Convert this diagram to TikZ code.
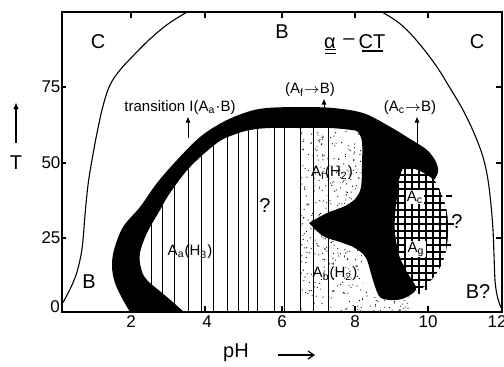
\documentclass[tikz,border=0pt]{standalone}
\usepackage{fontspec}
\setmainfont{Liberation Sans}
\usetikzlibrary{arrows.meta}
\begin{document}
\begin{tikzpicture}[x=0.5pt,y=-0.5pt,
  lbl/.style={inner sep=0pt,font=\fontsize{10}{11}\selectfont},
  num/.style={inner sep=0pt,font=\fontsize{8.5}{9}\selectfont},
  note/.style={inner sep=0pt,font=\fontsize{7.5}{8}\selectfont},
  boxed/.style={note,fill=white,inner sep=0.6pt},
  frame/.style={line width=0.75pt},
  tickmark/.style={line width=0.6pt},
  bound/.style={line width=0.55pt},
  hatchline/.style={line width=0.5pt},
  gridline/.style={line width=1.2pt},
  uparrow/.style={line width=0.5pt,-{Triangle[length=2.8pt,width=2.2pt]}},
]
\useasboundingbox (0,0) rectangle (504,366);

% stipple
\begin{scope}
\clip (300,131) -- (363,131) -- (363,290) -- (410,290) -- (410,312) -- (300,312) -- cycle;
\pgfmathsetseed{11}
\foreach \i in {1,...,620}{\fill ({300+110*rnd},{131+181*rnd}) circle (0.3pt);}
\end{scope}

% vertical hatching
\begin{scope}
\clip plot[smooth,tension=0.6] coordinates {(352,130) (330,128) (300,128) (270,128) (250,130) (233,135) (217,143) (190,167) (170,193) (160,210) (147,233) (140,253) (141,268) (147,280) (167,297) (184,312)} -- (420,312) -- (420,100) -- cycle;
\foreach \x in {151,162,174,188,201,213,227,238,248,257,274,284,300,313,328}
  \draw[hatchline] (\x,100) -- (\x,312);
\end{scope}

% cross-hatched region
\begin{scope}
\clip plot[smooth cycle,tension=0.6] coordinates {(401,166) (420,171) (434,180) (441,193) (446,208) (448,225) (447,245) (443,261) (436,274) (427,284) (417,290) (408,276) (399,256) (395,233) (395,210) (397,188)};
\fill[white] (380,150) rectangle (460,300);
\foreach \x in {398,405,...,447} \draw[gridline] (\x,160) -- (\x,295);
\foreach \y in {168,175,...,287} \draw[gridline] (390,\y) -- (455,\y);
\end{scope}
\draw[gridline] (446,196) -- (452,196);
\draw[gridline] (446,224) -- (454,224);
\draw[gridline] (446,245) -- (451,245);
\draw[gridline] (419,286) -- (419,294);
\draw[gridline] (426,283) -- (426,290);

% black region
\fill[black]
  plot[smooth,tension=0.55] coordinates {(130,312) (122,298) (115,283) (112,267) (114,250) (123,227) (140,207) (157,183) (177,160) (200,137) (223,122) (247,112) (267,108) (300,107) (333,108) (363,113) (387,125) (407,137) (427,150) (436,162) (438,172) (434,180)}
  -- plot[smooth,tension=0.55] coordinates {(434,180) (422,172) (405,167) (399,180) (397,197) (395,215) (395,233) (399,255) (407,272) (416,287) (413,293) (402,299) (390,300) (381,298) (377,292) (372,277) (366,258) (355,248) (340,242) (323,236) (309,223)}
  -- plot[smooth,tension=0.55] coordinates {(309,223) (327,213) (345,206) (356,198) (361,187) (362,165) (362,142) (358,132) (352,130)}
  -- plot[smooth,tension=0.6] coordinates {(352,130) (330,128) (300,128) (270,128) (250,130) (233,135) (217,143) (190,167) (170,193) (160,210) (147,233) (140,253) (141,268) (147,280) (167,297) (184,312)}
  -- cycle;

% phase boundaries
\draw[bound] plot[smooth,tension=0.6] coordinates {(62,304) (66,297) (72,285) (77,272) (81,255) (83,240) (85,215) (88,185) (92,160) (97,133) (103,106) (110,85) (120,70) (132,57) (150,39) (168,24) (187,12)};
\draw[bound] plot[smooth,tension=0.6] coordinates {(382,12) (395,20) (407,30) (422,47) (437,67) (450,88) (463,110) (474,133) (483,157) (488,180) (491,205) (493,230) (494,255) (495,280) (497,295) (500,305) (502,309)};

% frame and ticks
\draw[frame] (62,12) rectangle (502,312);
\foreach \x in {131,205,282,355,428}{
  \draw[tickmark] (\x,12) -- (\x,18);
  \draw[tickmark] (\x,312) -- (\x,306);
}
\foreach \y in {87,163,238}{
  \draw[tickmark] (62,\y) -- (66,\y);
  \draw[tickmark] (502,\y) -- (496,\y);
}
\node[num] (t0) at (55,307) {0};
\node[num] (t25) at (51,238) {25};
\node[num] (t50) at (51,163) {50};
\node[num] (t75) at (51,87) {75};
\node[num] (p2) at (131,322) {2};
\node[num] (p4) at (207,322) {4};
\node[num] (p6) at (282,322) {6};
\node[num] (p8) at (355,322) {8};
\node[num] (p10) at (428,322) {10};
\node[num] (p12) at (497,322) {12};

% axis titles
\node[lbl] (tlab) at (16,163) {T};
\coordinate (ta0) at (16,143);
\coordinate (ta1) at (16,103);
\draw[line width=0.6pt,-{Triangle[length=3pt,width=2.4pt]}] (ta0) -- (ta1);
\node[lbl] (phlab) at (236,353) {pH};
\coordinate (pa0) at (278,355);
\coordinate (pa1) at (315,355);
\draw[line width=0.6pt,-{Straight Barb[length=3pt,width=4pt]}] (pa0) -- (pa1);

% region labels
\node[lbl] (cl) at (98,42) {C};
\node[lbl] (bt) at (282,32) {B};
\node[lbl] (cr) at (477,42) {C};
\node[lbl] (bl) at (89,282) {B};
\node[lbl] (bq) at (478,292) {B?};
\node[lbl] (q1) at (265,206) {?};
\node[lbl] (q2) at (457,222) {?};

% title alpha-CT
\node[lbl] (alpha) at (330,43) {α};
\draw[line width=0.6pt] (325,49.5) -- (336,49.5) (325,53.5) -- (336,53.5);
\node[lbl] (dash) at (349,42) {–};
\node[lbl] (ct) at (372,42) {CT};
\draw[line width=0.6pt] (362,51) -- (383,51);

% species labels
\node[note] (aa) at (190,252) {A\textsubscript{a}(H\textsubscript{3})};
\node[note] (af) at (332,173) {A\textsubscript{f}(H\textsubscript{2})};
\node[note] (ab) at (335,274) {A\textsubscript{b}(H\textsubscript{2})};
\node[boxed] (ac) at (415,197) {A\textsubscript{c}};
\node[boxed] (ag) at (416,249) {A\textsubscript{g}};

% transitions
\node[note] (tr1) at (180,108) {transition I(A\textsubscript{a}·B)};
\node[note] (tr2) at (310,90) {(A\textsubscript{f}$\to$B)};
\node[note] (tr3) at (410,108) {(A\textsubscript{c}$\to$B)};
\coordinate (s1) at (188,138);
\coordinate (e1) at (188,117);
\coordinate (s2) at (324,109);
\coordinate (e2) at (324,99);
\coordinate (s3) at (417,144);
\coordinate (e3) at (417,117);
\draw[uparrow] (s1) -- (e1);
\draw[uparrow] (s2) -- (e2);
\draw[uparrow] (s3) -- (e3);
\end{tikzpicture}
\end{document}
